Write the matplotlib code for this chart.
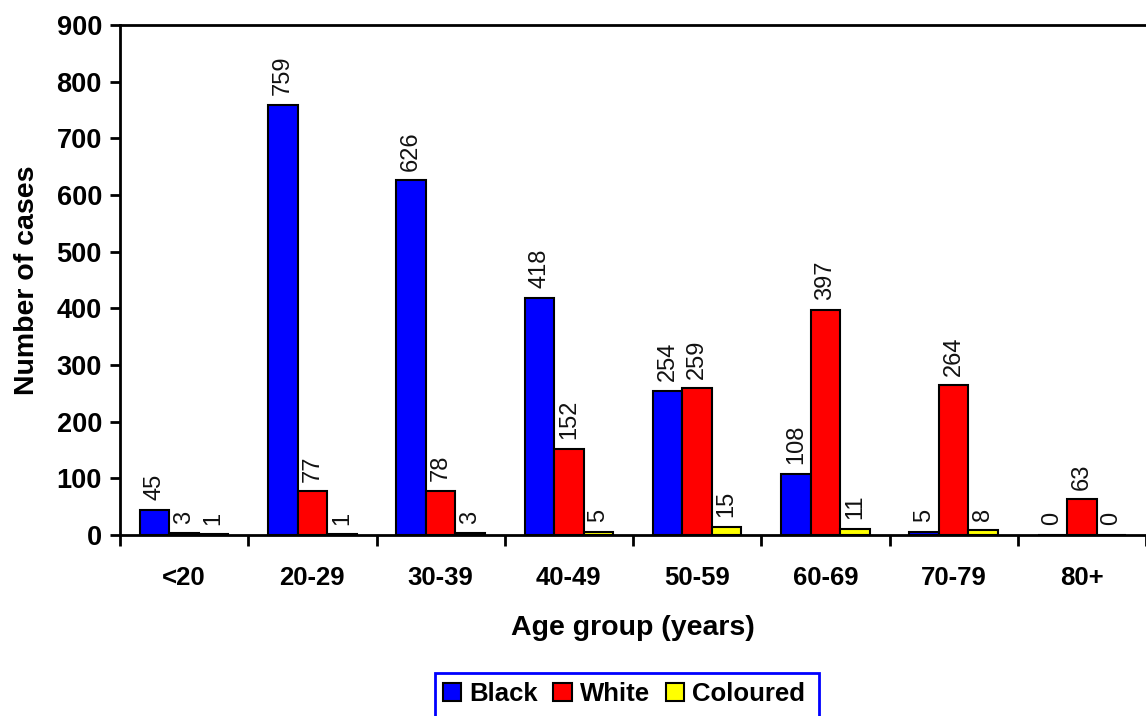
import matplotlib
matplotlib.use("Agg")
import matplotlib.pyplot as plt
from matplotlib.patches import Rectangle, Patch
from matplotlib import font_manager
import numpy as np

plt.rcParams['font.family'] = ['Liberation Sans', 'DejaVu Sans']

age_groups = ["<20", "20-29", "30-39", "40-49", "50-59", "60-69", "70-79", "80+"]
black = [45, 759, 626, 418, 254, 108, 5, 0]
white = [3, 77, 78, 152, 259, 397, 264, 63]
coloured = [1, 1, 3, 5, 15, 11, 8, 0]
series_names = ["Black", "White", "Coloured"]
series_colors = ["#0000FF", "#FF0000", "#FFFF00"]
y_ticks = [0, 100, 200, 300, 400, 500, 600, 700, 800, 900]

installed = {f.name for f in font_manager.fontManager.ttflist}
value_family = ['Liberation Sans Narrow'] if 'Liberation Sans Narrow' in installed else ['Liberation Sans']

fig = plt.figure(figsize=(11.46, 7.16), dpi=100)
ax = fig.add_axes([120 / 1146, 181 / 716, 1 - 120 / 1146, (535 - 25) / 716])

x = np.arange(len(age_groups))
bw = 0.23
for i, (vals, col) in enumerate(zip([black, white, coloured], series_colors)):
    pos = x + (i - 1) * bw
    ax.bar(pos, vals, width=bw, color=col, edgecolor="black", linewidth=1.5, zorder=3)
    for p, v in zip(pos, vals):
        ax.annotate(str(v), (p, v), xytext=(0, 7), textcoords="offset points",
                    rotation=90, ha="center", va="bottom", fontsize=17,
                    family=value_family, color="#111111", zorder=4)

ax.set_xlim(-0.5, len(age_groups) - 0.5)
ax.set_ylim(0, 900)
ax.set_yticks(y_ticks)
ax.set_yticklabels([str(t) for t in y_ticks], fontsize=19.5, fontweight="bold")
ax.set_xticks(x)
ax.set_xticklabels(age_groups, fontsize=18.5, fontweight="bold")
ax.tick_params(axis="x", which="major", length=0, pad=22)
ax.set_xticks(np.arange(-0.5, len(age_groups), 1.0), minor=True)
ax.tick_params(axis="x", which="minor", length=8, width=2, direction="out")
ax.tick_params(axis="y", length=7, width=2, direction="out", pad=6)

for s in ["left", "bottom", "top"]:
    ax.spines[s].set_linewidth(2)
ax.spines["right"].set_visible(False)

ax.set_xlabel("Age group (years)", fontsize=20.5, fontweight="bold", labelpad=18)
ax.set_ylabel("Number of cases", fontsize=20.5, fontweight="bold", labelpad=12)

# Legend box with a blue border running off the lower edge of the figure
fig.patches.append(Rectangle((435 / 1146, -0.05), (819 - 435) / 1146, (716 - 673) / 716 + 0.05,
                             transform=fig.transFigure, fill=False, edgecolor="#0000FF",
                             linewidth=2, zorder=5))
handles = [Patch(facecolor=c, edgecolor="black", linewidth=1.5, label=n)
           for n, c in zip(series_names, series_colors)]
leg = fig.legend(handles=handles, loc="center", bbox_to_anchor=(624 / 1146, (716 - 694) / 716),
                 ncol=3, frameon=False, handlelength=0.72, handleheight=0.68,
                 handletextpad=0.32, columnspacing=0.6,
                 prop={"size": 18.5, "weight": "bold"})

fig.savefig("out.png", dpi=100)
